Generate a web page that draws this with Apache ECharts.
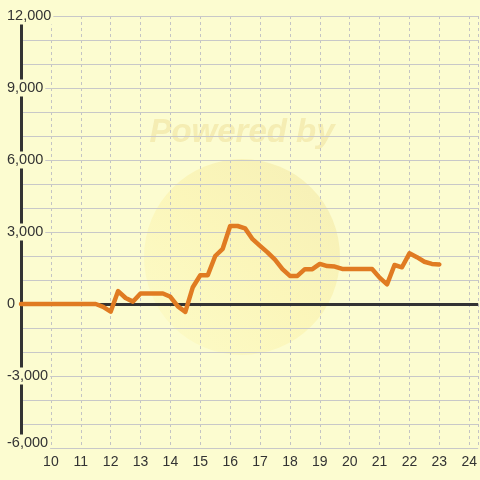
<!DOCTYPE html>
<html>
<head>
<meta charset="utf-8">
<script src="https://cdn.jsdelivr.net/npm/echarts@6/dist/echarts.min.js"></script>
<style>html,body{margin:0;padding:0;background:#fcfcd0;}#c{width:480px;height:480px;}</style>
</head>
<body>
<div id="c"></div>
<script>
var xValues = [9, 11.5, 11.75, 12, 12.25, 12.5, 12.75, 13, 13.25, 13.5, 13.75, 14, 14.25, 14.5, 14.75, 15, 15.25, 15.5, 15.75, 16, 16.25, 16.5, 16.75, 17, 17.25, 17.5, 17.75, 18, 18.25, 18.5, 18.75, 19, 19.25, 19.5, 19.75, 20, 20.25, 20.5, 20.75, 21, 21.25, 21.5, 21.75, 22, 22.25, 22.5, 22.75, 23];
var yValues = [0, 0, -120, -320, 540, 250, 100, 440, 440, 440, 440, 300, -100, -330, 700, 1200, 1200, 2000, 2300, 3250, 3250, 3150, 2700, 2420, 2150, 1850, 1450, 1170, 1170, 1450, 1450, 1670, 1580, 1560, 1460, 1460, 1460, 1460, 1460, 1100, 820, 1625, 1530, 2110, 1950, 1760, 1670, 1650];
var yTickLabels = ['12,000', '9,000', '6,000', '3,000', '0', '-3,000', '-6,000'];

var bg = '#fcfcd0';
var font = '"Liberation Sans", Arial, sans-serif';
var chart = echarts.init(document.getElementById('c'), null, {renderer: 'canvas'});
var data = xValues.map(function (x, i) { return [x, yValues[i]]; });

function fmtY(v) {
  if (Math.abs(v % 3000) > 1e-6) return '';
  var s = Math.abs(v).toString().replace(/\B(?=(\d{3})+(?!\d))/g, ',');
  s = (v < 0 ? '-' : '') + s;
  if (yTickLabels.indexOf(s) < 0) return '';
  if (v === -6000) return '{a|' + s + '}\n{c|}';
  return '{a|' + s + '}';
}

chart.setOption({
  backgroundColor: bg,
  animation: false,
  graphic: [
    {
      type: 'circle', z: -10, silent: true,
      shape: {cx: 242, cy: 257, r: 98},
      style: {
        fill: new echarts.graphic.LinearGradient(1, 0, 0, 1, [
          {offset: 0, color: 'rgba(236,222,150,0.45)'},
          {offset: 0.5, color: 'rgba(250,236,150,0.38)'},
          {offset: 1, color: 'rgba(252,246,170,0.25)'}
        ])
      }
    },
    {
      type: 'text', z: -9, silent: true,
      x: 242, y: 133,
      style: {
        text: 'Powered by', fill: 'rgba(238,222,150,0.5)',
        font: 'italic bold 33px "Liberation Sans", Arial, sans-serif',
        align: 'center', verticalAlign: 'middle'
      }
    }
  ],
  grid: {left: 21, right: 0, top: 16, bottom: 32, containLabel: false},
  xAxis: {
    type: 'value', min: 9, max: 24.3, interval: 1,
    axisLine: {show: false, onZero: false},
    axisTick: {show: false},
    splitLine: {show: true, lineStyle: {color: '#c4c4c4', type: [3, 3], width: 1}},
    axisLabel: {
      color: '#333', fontSize: 14, fontFamily: font, margin: 7,
      showMinLabel: false, showMaxLabel: false,
      formatter: function (v) { return (Math.abs(v - Math.round(v)) < 1e-6 && v > 9) ? String(v) : ''; }
    }
  },
  yAxis: {
    type: 'value', min: -6000, max: 12000, interval: 1000,
    axisLine: {show: true, lineStyle: {color: '#333', width: 3}},
    axisTick: {show: false},
    splitLine: {show: true, lineStyle: {color: '#c8c8c8', width: 1}},
    axisLabel: {
      color: '#333', fontSize: 14, fontFamily: font,
      align: 'left', margin: 14,
      formatter: fmtY,
      rich: {
        a: {color: '#333', fontSize: 14.5, fontFamily: font, backgroundColor: bg, padding: [1, 2, 1, 0]},
        c: {height: 10, fontSize: 1}
      }
    },
    z: 3
  },
  series: [{
    type: 'line', data: data, showSymbol: false, symbol: 'none',
    lineStyle: {color: '#e07b22', width: 4.5, join: 'round', cap: 'round'},
    z: 5,
    markLine: {
      silent: true, symbol: 'none', z: 4,
      label: {show: false},
      lineStyle: {color: '#333', width: 3, type: 'solid'},
      data: [{yAxis: 0}]
    }
  }]
});
</script>
</body>
</html>
